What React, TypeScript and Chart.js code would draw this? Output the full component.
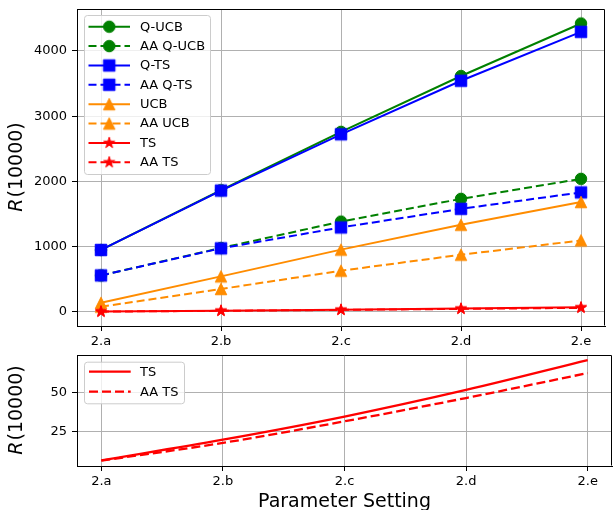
import React, { useEffect, useRef } from 'react';
import { Chart, registerables } from 'chart.js';

Chart.register(...registerables);

// ---------- data ----------
const categories = ['2.a', '2.b', '2.c', '2.d', '2.e'];
const qUcb = [950, 1865, 2760, 3615, 4420];
const aaQUcb = [560, 980, 1385, 1733, 2040];
const qTs = [950, 1860, 2722, 3542, 4292];
const aaQTs = [560, 975, 1295, 1580, 1832];
const ucb = [140, 545, 955, 1336, 1684];
const aaUcb = [80, 352, 632, 877, 1096];
const ts = [6, 19.5, 34.6, 52, 71.5];
const aaTs = [5.8, 17.4, 31.5, 46.7, 63];
const topYTicks = [0, 1000, 2000, 3000, 4000];
const bottomYTicks = [25, 50];
const xLabel = 'Parameter Setting';
const yLabelItalic = 'R';
const yLabelRest = '(10000)';

const FONT = '"DejaVu Sans", "Liberation Sans", sans-serif';
const GREEN = '#008000';
const BLUE = '#0000ff';
const ORANGE = '#ff8c00';
const RED = '#ff0000';

type MarkerKind = 'circle' | 'square' | 'triangle' | 'star';

function makeMarker(kind: MarkerKind, color: string, ms = 11.5): HTMLCanvasElement {
  const size = 20;
  const c = document.createElement('canvas');
  c.width = size;
  c.height = size;
  const g = c.getContext('2d')!;
  const h = size / 2;
  const r = ms / 2;
  g.fillStyle = color;
  g.strokeStyle = color;
  g.lineWidth = 1;
  g.beginPath();
  if (kind === 'circle') {
    g.arc(h, h, r, 0, Math.PI * 2);
  } else if (kind === 'square') {
    g.rect(h - r, h - r, 2 * r, 2 * r);
  } else if (kind === 'triangle') {
    g.moveTo(h, h - r);
    g.lineTo(h - r, h + r);
    g.lineTo(h + r, h + r);
    g.closePath();
  } else {
    for (let k = 0; k < 10; k++) {
      const ang = -Math.PI / 2 + (k * Math.PI) / 5;
      const rad = k % 2 === 0 ? r : r * 0.381966;
      const px = h + Math.cos(ang) * rad;
      const py = h + Math.sin(ang) * rad;
      if (k === 0) g.moveTo(px, py);
      else g.lineTo(px, py);
    }
    g.closePath();
  }
  g.fill();
  g.stroke();
  return c;
}

function roundRectPath(ctx: CanvasRenderingContext2D, x: number, y: number, w: number, h: number, r: number) {
  ctx.beginPath();
  ctx.moveTo(x + r, y);
  ctx.lineTo(x + w - r, y);
  ctx.arcTo(x + w, y, x + w, y + r, r);
  ctx.lineTo(x + w, y + h - r);
  ctx.arcTo(x + w, y + h, x + w - r, y + h, r);
  ctx.lineTo(x + r, y + h);
  ctx.arcTo(x, y + h, x, y + h - r, r);
  ctx.lineTo(x, y + r);
  ctx.arcTo(x, y, x + r, y, r);
  ctx.closePath();
}

interface LegendEntry {
  label: string;
  color: string;
  dashed: boolean;
  marker?: HTMLCanvasElement;
}

function drawLegend(
  ctx: CanvasRenderingContext2D,
  box: { x: number; y: number; w: number; h: number },
  entries: LegendEntry[],
  firstY: number,
  step: number,
  x0: number,
  x1: number,
  textX: number,
  lw: number,
  dash: number[]
) {
  ctx.save();
  roundRectPath(ctx, box.x + 0.5, box.y + 0.5, box.w, box.h, 3);
  ctx.fillStyle = 'rgba(255,255,255,0.8)';
  ctx.fill();
  ctx.strokeStyle = '#cccccc';
  ctx.lineWidth = 1;
  ctx.stroke();
  entries.forEach((e, i) => {
    const y = firstY + i * step;
    ctx.beginPath();
    ctx.setLineDash(e.dashed ? dash : []);
    ctx.strokeStyle = e.color;
    ctx.lineWidth = lw;
    ctx.moveTo(x0, y);
    ctx.lineTo(x1, y);
    ctx.stroke();
    ctx.setLineDash([]);
    if (e.marker) {
      const m = e.marker;
      ctx.drawImage(m, (x0 + x1) / 2 - m.width / 2, y - m.height / 2);
    }
    ctx.fillStyle = '#000';
    ctx.font = `13px ${FONT}`;
    ctx.textAlign = 'left';
    ctx.textBaseline = 'middle';
    ctx.fillText(e.label, textX, y + 0.5);
  });
  ctx.restore();
}

function drawYLabel(ctx: CanvasRenderingContext2D, cx: number, cy: number) {
  ctx.save();
  ctx.translate(cx, cy);
  ctx.rotate(-Math.PI / 2);
  const italic = `italic 19px ${FONT}`;
  const normal = `19px ${FONT}`;
  ctx.font = italic;
  const w1 = ctx.measureText(yLabelItalic).width;
  ctx.font = normal;
  const w2 = ctx.measureText(yLabelRest).width;
  const x0 = -(w1 + w2) / 2;
  ctx.fillStyle = '#000';
  ctx.textBaseline = 'middle';
  ctx.textAlign = 'left';
  ctx.font = italic;
  ctx.fillText(yLabelItalic, x0, 0);
  ctx.font = normal;
  ctx.fillText(yLabelRest, x0 + w1 + 1, 0);
  ctx.restore();
}

function drawFrame(chart: Chart) {
  const { ctx, chartArea } = chart;
  ctx.save();
  ctx.strokeStyle = '#000';
  ctx.lineWidth = 1;
  const l = Math.round(chartArea.left) + 0.5;
  const r = Math.round(chartArea.right) - 0.5;
  const t = Math.round(chartArea.top) + 0.5;
  const b = Math.round(chartArea.bottom) - 0.5;
  ctx.beginPath();
  ctx.moveTo(l, t);
  ctx.lineTo(r, t);
  ctx.lineTo(r, b);
  ctx.stroke();
  ctx.restore();
}

function zeroPadding(s: any) {
  s.paddingTop = 0;
  s.paddingBottom = 0;
  s.paddingLeft = 0;
  s.paddingRight = 0;
}

function makeOptions(yMin: number, yMax: number, yTicks: number[], xAxisHeight: number, padTop: number): any {
  const tickFont = { family: FONT, size: 13 };
  const grid = { color: '#b0b0b0', lineWidth: 1, tickLength: 5, tickColor: '#000', tickWidth: 1 };
  const border = { display: true, color: '#000', width: 1 };
  return {
    responsive: false,
    animation: false,
    events: [],
    layout: { padding: { top: padTop, right: 1, left: 0, bottom: 0 } },
    plugins: { legend: { display: false }, tooltip: { enabled: false } },
    scales: {
      x: {
        type: 'linear',
        min: -0.2,
        max: 4.2,
        afterBuildTicks: (s: any) => {
          s.ticks = categories.map((_, i) => ({ value: i }));
        },
        afterFit: (s: any) => {
          s.height = xAxisHeight;
          zeroPadding(s);
        },
        ticks: {
          callback: (v: number) => categories[v] ?? '',
          autoSkip: false,
          maxRotation: 0,
          minRotation: 0,
          padding: 3,
          color: '#000',
          font: tickFont,
        },
        grid,
        border,
      },
      y: {
        type: 'linear',
        min: yMin,
        max: yMax,
        afterBuildTicks: (s: any) => {
          s.ticks = yTicks.map((v) => ({ value: v }));
        },
        afterFit: (s: any) => {
          s.width = 77;
          zeroPadding(s);
        },
        ticks: { padding: 5, color: '#000', font: tickFont, callback: (v: number) => String(v) },
        grid,
        border,
      },
    },
  };
}

export default function App() {
  const topRef = useRef<HTMLCanvasElement>(null);
  const botRef = useRef<HTMLCanvasElement>(null);

  useEffect(() => {
    const mCircle = makeMarker('circle', GREEN);
    const mSquare = makeMarker('square', BLUE);
    const mTri = makeMarker('triangle', ORANGE);
    const mStar = makeMarker('star', RED);
    const dash = [8, 4];

    const topSeries: { label: string; data: number[]; color: string; dashed: boolean; marker: HTMLCanvasElement }[] = [
      { label: 'Q-UCB', data: qUcb, color: GREEN, dashed: false, marker: mCircle },
      { label: 'AA Q-UCB', data: aaQUcb, color: GREEN, dashed: true, marker: mCircle },
      { label: 'Q-TS', data: qTs, color: BLUE, dashed: false, marker: mSquare },
      { label: 'AA Q-TS', data: aaQTs, color: BLUE, dashed: true, marker: mSquare },
      { label: 'UCB', data: ucb, color: ORANGE, dashed: false, marker: mTri },
      { label: 'AA UCB', data: aaUcb, color: ORANGE, dashed: true, marker: mTri },
      { label: 'TS', data: ts, color: RED, dashed: false, marker: mStar },
      { label: 'AA TS', data: aaTs, color: RED, dashed: true, marker: mStar },
    ];

    const topChart = new Chart(topRef.current!, {
      type: 'line',
      data: {
        datasets: topSeries.map((s, i) => ({
          label: s.label,
          data: s.data.map((y, k) => ({ x: k, y })),
          borderColor: s.color,
          backgroundColor: s.color,
          borderWidth: 2,
          borderDash: s.dashed ? dash : [],
          pointStyle: s.marker,
          pointRadius: 6,
          pointHoverRadius: 6,
          tension: 0,
          fill: false,
          order: topSeries.length - i,
        })),
      },
      options: makeOptions(-215, 4642, topYTicks, 24, 9),
      plugins: [
        {
          id: 'decoTop',
          afterDraw(chart: Chart) {
            drawFrame(chart);
            const ctx = chart.ctx;
            drawYLabel(ctx, 17, (chart.chartArea.top + chart.chartArea.bottom) / 2);
            drawLegend(
              ctx,
              { x: 84, y: 15, w: 126, h: 159 },
              topSeries.map((s) => ({ label: s.label, color: s.color, dashed: s.dashed, marker: s.marker })),
              26.7,
              19.37,
              88.5,
              130,
              140,
              2,
              dash
            );
          },
        },
      ],
    } as any);

    const botSeries = [
      { label: 'TS', data: ts, color: RED, dashed: false },
      { label: 'AA TS', data: aaTs, color: RED, dashed: true },
    ];
    const botDash = [9, 4];

    const botChart = new Chart(botRef.current!, {
      type: 'line',
      data: {
        datasets: botSeries.map((s, i) => ({
          label: s.label,
          data: s.data.map((y, k) => ({ x: k, y })),
          borderColor: s.color,
          backgroundColor: s.color,
          borderWidth: 2.3,
          borderDash: s.dashed ? botDash : [],
          pointRadius: 0,
          pointHoverRadius: 0,
          cubicInterpolationMode: 'monotone',
          fill: false,
          order: botSeries.length - i,
        })),
      },
      options: makeOptions(2.3, 74.8, bottomYTicks, 44, 10),
      plugins: [
        {
          id: 'decoBot',
          afterDraw(chart: Chart) {
            drawFrame(chart);
            const ctx = chart.ctx;
            drawYLabel(ctx, 17, (chart.chartArea.top + chart.chartArea.bottom) / 2);
            ctx.save();
            ctx.font = `19px ${FONT}`;
            ctx.fillStyle = '#000';
            ctx.textAlign = 'center';
            ctx.textBaseline = 'alphabetic';
            ctx.fillText(xLabel, (chart.chartArea.left + chart.chartArea.right) / 2, 162);
            ctx.restore();
            drawLegend(
              ctx,
              { x: 84, y: 16.7, w: 100, h: 41.6 },
              botSeries.map((s) => ({ label: s.label, color: s.color, dashed: s.dashed })),
              26.7,
              20,
              89,
              130.7,
              140,
              2.3,
              botDash
            );
          },
        },
      ],
    } as any);

    return () => {
      topChart.destroy();
      botChart.destroy();
    };
  }, []);

  return (
    <div style={{ position: 'fixed', left: 0, top: 0, width: 613, height: 510, background: '#fff', overflow: 'hidden' }}>
      <canvas ref={topRef} width={613} height={350} style={{ position: 'absolute', left: 0, top: 0, width: 613, height: 350 }} />
      <canvas ref={botRef} width={613} height={165} style={{ position: 'absolute', left: 0, top: 345, width: 613, height: 165 }} />
    </div>
  );
}
